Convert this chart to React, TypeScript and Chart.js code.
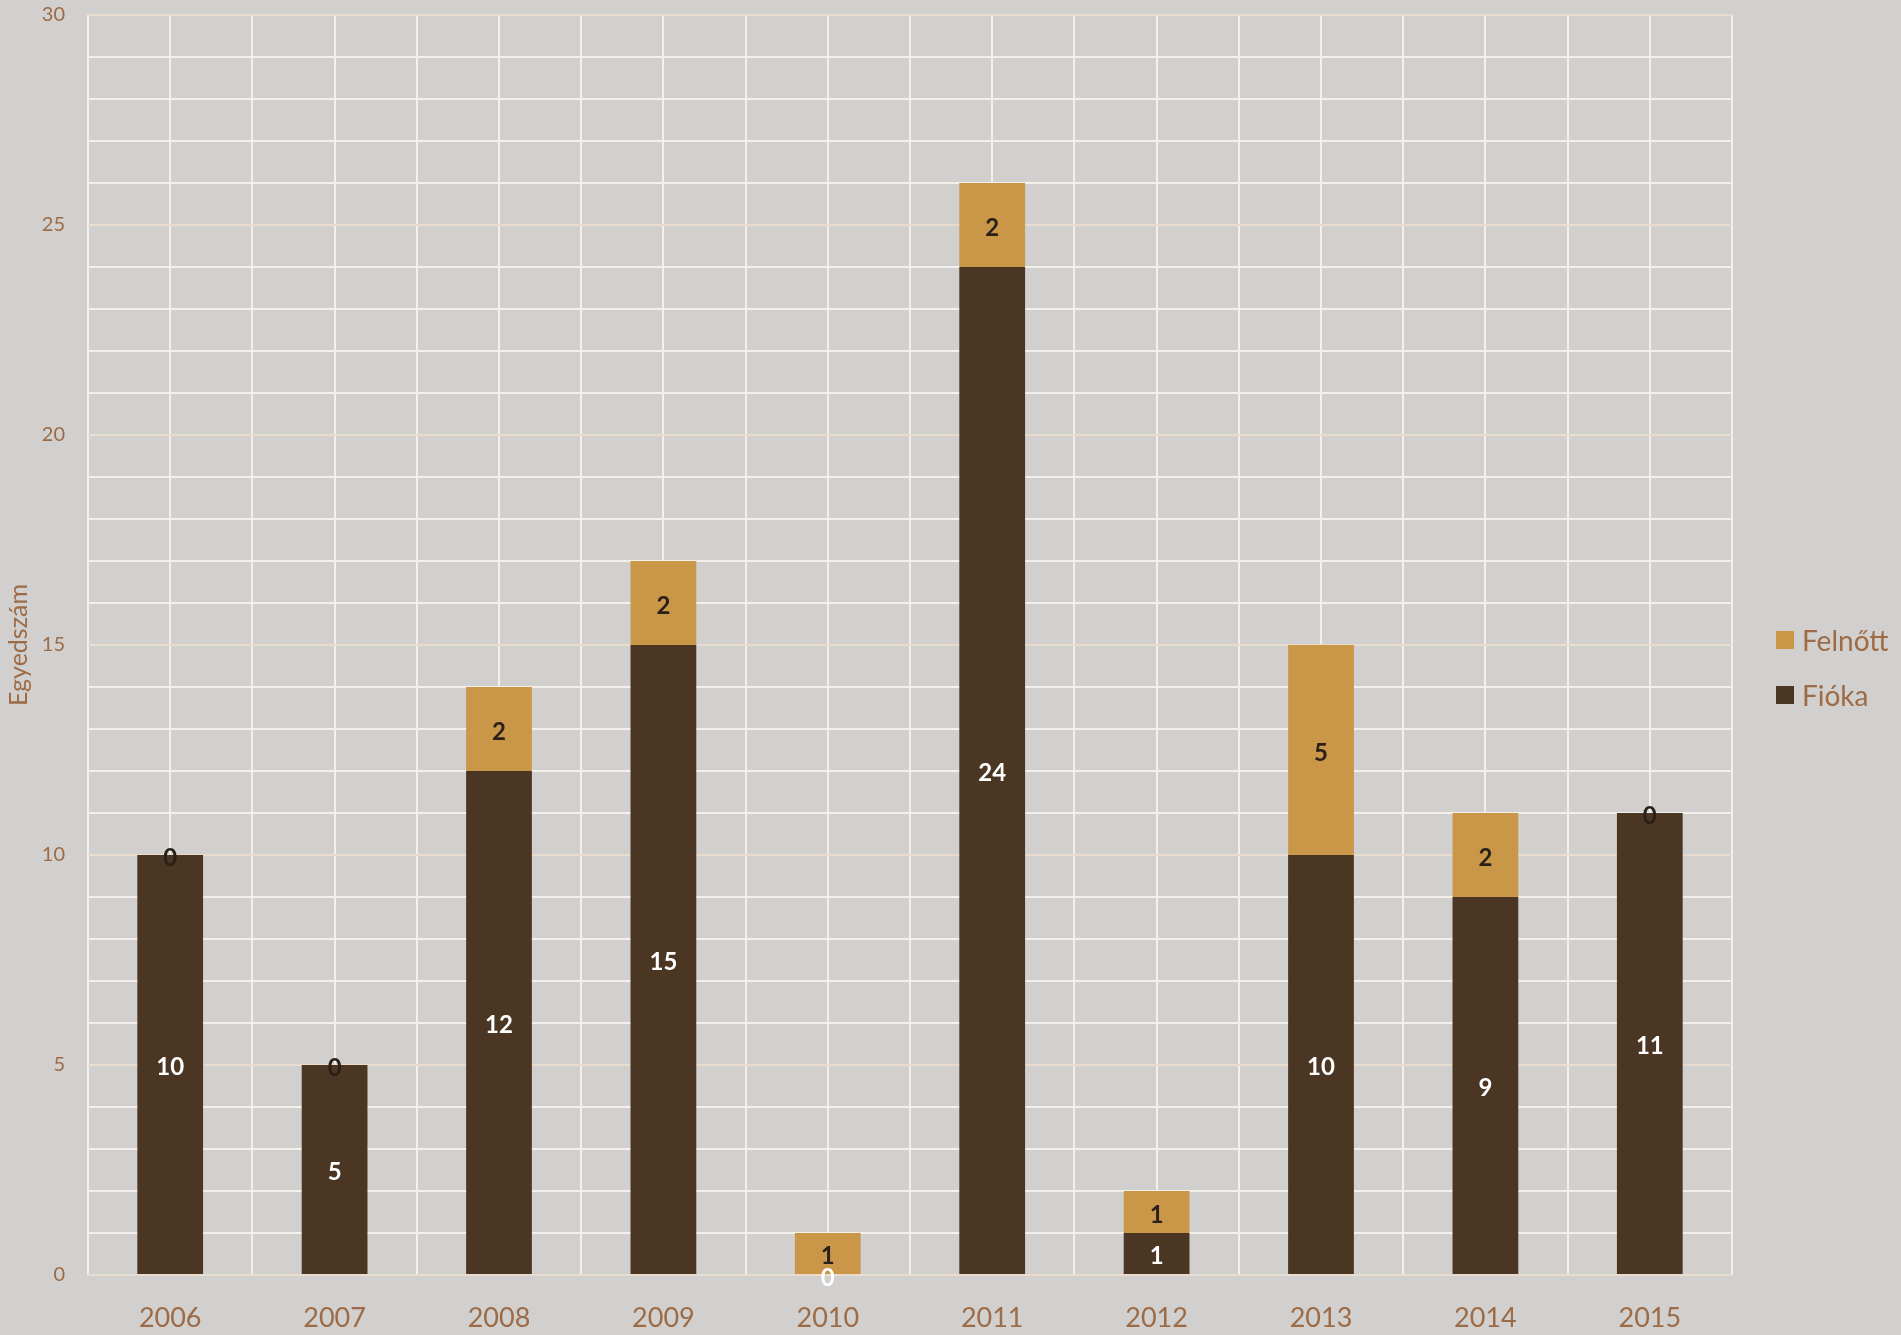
import React, { useEffect, useRef } from 'react';
import { Chart, registerables } from 'chart.js';

Chart.register(...registerables);

const years = ['2006', '2007', '2008', '2009', '2010', '2011', '2012', '2013', '2014', '2015'];
const fiokaValues = [10, 5, 12, 15, 0, 24, 1, 10, 9, 11];
const felnottValues = [0, 0, 2, 2, 1, 2, 1, 5, 2, 0];
const seriesNames = ['Fióka', 'Felnőtt'];
const seriesColors = ['#4a3623', '#c99747'];
const labelColors = ['#ffffff', '#2b2018'];
const yMin = 0;
const yMax = 30;
const yLabelStep = 5;
const yTitle = 'Egyedszám';

const W = 1901;
const H = 1335;
const TEXT = '#9d6b45';
const FONT = 'Lato, "Noto Sans", sans-serif';

const barLabelPlugin = {
  id: 'barLabels',
  afterDatasetsDraw(chart: any) {
    const ctx = chart.ctx;
    ctx.save();
    ctx.font = `bold 24px ${FONT}`;
    ctx.textAlign = 'center';
    ctx.textBaseline = 'middle';
    chart.data.datasets.forEach((ds: any, i: number) => {
      const meta = chart.getDatasetMeta(i);
      meta.data.forEach((bar: any, j: number) => {
        const v = ds.data[j];
        const p = bar.getProps(['x', 'y', 'base'], true);
        const cy = (p.y + p.base) / 2;
        ctx.fillStyle = labelColors[i];
        ctx.fillText(String(v), p.x, cy + 3);
      });
    });
    ctx.restore();
  },
};

export default function App() {
  const ref = useRef<HTMLCanvasElement>(null);

  useEffect(() => {
    if (!ref.current) return;
    const chart = new Chart(ref.current, {
      type: 'bar',
      data: {
        labels: years,
        datasets: [
          { label: seriesNames[0], data: fiokaValues, backgroundColor: seriesColors[0], xAxisID: 'x' },
          { label: seriesNames[1], data: felnottValues, backgroundColor: seriesColors[1], xAxisID: 'x' },
        ],
      },
      options: {
        animation: false,
        responsive: false,
        maintainAspectRatio: false,
        layout: { padding: { left: 0, top: 15, right: W - 1732, bottom: 0 } },
        datasets: { bar: { barPercentage: 0.4, categoryPercentage: 1 } },
        plugins: {
          legend: { display: false },
          tooltip: { enabled: false },
        },
        scales: {
          x: {
            type: 'category',
            stacked: true,
            offset: true,
            position: 'bottom',
            grid: { offset: true, color: '#f3f0ec', lineWidth: 2, drawTicks: false },
            border: { display: false },
            ticks: { color: TEXT, font: { family: FONT, size: 27 }, padding: 27 },
            afterFit: (s: any) => { s.height = 60; s.paddingLeft = 0; s.paddingRight = 0; },
          },
          x2: {
            type: 'category',
            offset: true,
            position: 'bottom',
            grid: { offset: false, color: '#f3f0ec', lineWidth: 2, drawTicks: false },
            border: { display: false },
            ticks: { display: false },
            afterFit: (s: any) => { s.height = 0; s.paddingLeft = 0; s.paddingRight = 0; },
          },
          y: {
            stacked: true,
            min: yMin,
            max: yMax,
            grid: {
              color: (c: any) => (c.tick && c.tick.value % yLabelStep === 0 ? '#eadbcf' : '#f3f0ec'),
              lineWidth: 2,
              drawTicks: false,
            },
            border: { display: false },
            ticks: {
              stepSize: 1,
              autoSkip: false,
              padding: 23,
              color: TEXT,
              font: { family: FONT, size: 20 },
              callback: (v: any) => (Number(v) % yLabelStep === 0 ? String(v) : ''),
            },
            title: {
              display: true,
              text: yTitle,
              color: TEXT,
              font: { family: FONT, size: 25 },
              padding: { top: 4, bottom: 0 },
            },
            afterFit: (s: any) => { s.width = 88; s.paddingTop = 0; s.paddingBottom = 0; },
          },
        },
      },
      plugins: [barLabelPlugin],
    } as any);
    return () => chart.destroy();
  }, []);

  const legendItems = [1, 0];
  return (
    <div style={{ position: 'fixed', left: 0, top: 0, width: W, height: H, background: '#d1d0ce', overflow: 'hidden' }}>
      <canvas ref={ref} width={W} height={H} style={{ position: 'absolute', left: 0, top: 0, width: W, height: H }} />
      {legendItems.map((idx, k) => (
        <div
          key={idx}
          style={{
            position: 'absolute',
            left: 1776,
            top: 622 + k * 55,
            height: 36,
            display: 'flex',
            alignItems: 'center',
            fontFamily: FONT,
            fontSize: 28,
            color: TEXT,
            whiteSpace: 'nowrap',
          }}
        >
          <span style={{ display: 'inline-block', width: 18, height: 18, background: seriesColors[idx], marginRight: 8 }} />
          <span>{seriesNames[idx]}</span>
        </div>
      ))}
    </div>
  );
}
